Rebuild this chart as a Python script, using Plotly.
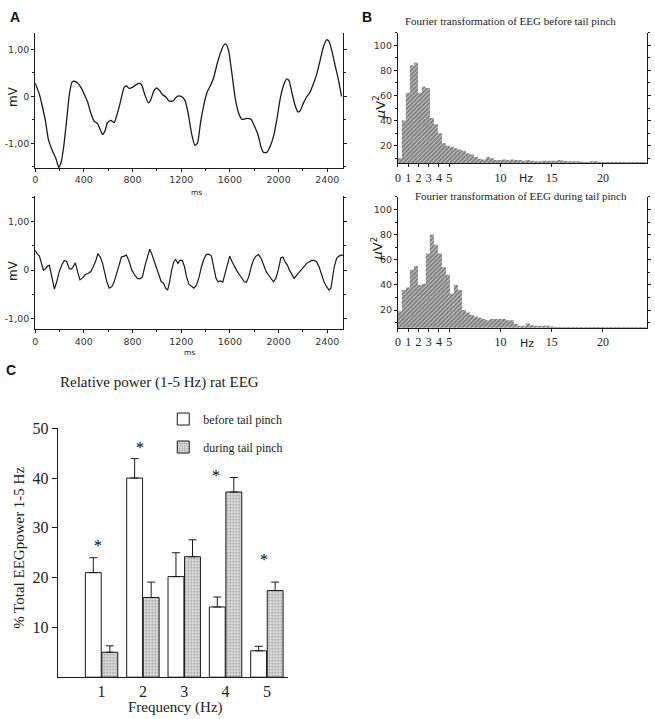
import plotly.graph_objects as go

W, H = 655, 719

# --- Panel A: EEG traces (ms, mV) ---
t_before_ms = [0, 35, 57, 85, 109, 139, 172, 194, 213, 235, 259, 281, 303, 322, 349, 376, 404, 431,
               458, 485, 513, 532, 554, 573, 594, 622, 649, 676, 704, 731, 750, 772, 799, 826, 854,
               875, 900, 930, 949, 976, 998, 1023, 1044, 1072, 1099, 1132, 1167, 1200, 1230, 1257,
               1284, 1312, 1334, 1358, 1385, 1413, 1440, 1467, 1494, 1522, 1549, 1568, 1590, 1617,
               1644, 1672, 1699, 1740, 1775, 1803, 1830, 1857, 1876, 1903, 1931, 1958, 1985, 2013,
               2040, 2067, 2086, 2108, 2135, 2157, 2176, 2203, 2231, 2258, 2285, 2313, 2340, 2367,
               2394, 2413, 2435, 2462, 2490, 2517]
eeg_before_mv = [0.28, 0.04, -0.19, -0.53, -0.92, -1.14, -1.33, -1.51, -1.40, -1.06, -0.50, 0.04,
                 0.30, 0.32, 0.28, 0.19, 0.04, -0.12, -0.36, -0.53, -0.58, -0.69, -0.81, -0.74,
                 -0.56, -0.51, -0.56, -0.36, -0.08, 0.19, 0.22, 0.17, 0.19, 0.24, 0.28, 0.24, 0.04,
                 -0.14, -0.08, 0.12, 0.18, 0.12, 0.04, -0.01, -0.10, -0.10, 0.0, 0.0, -0.08, -0.36,
                 -0.78, -1.04, -0.99, -0.57, -0.19, 0.09, 0.23, 0.40, 0.68, 0.92, 1.08, 1.11, 0.96,
                 0.47, -0.05, -0.36, -0.49, -0.47, -0.49, -0.64, -0.81, -1.09, -1.19, -1.19, -1.06,
                 -0.85, -0.50, -0.05, 0.23, 0.37, 0.33, 0.09, -0.19, -0.33, -0.31, -0.15, -0.01,
                 0.09, 0.26, 0.47, 0.75, 1.04, 1.20, 1.17, 0.99, 0.68, 0.37, 0.0]

t_during_ms = [0, 16, 35, 55, 68, 85, 104, 117, 131, 145, 158, 177, 199, 221, 240, 259, 281, 300,
               316, 330, 349, 368, 390, 412, 434, 458, 477, 499, 515, 535, 554, 573, 589, 608, 630,
               649, 668, 690, 709, 731, 750, 772, 794, 818, 840, 862, 881, 903, 922, 941, 957, 976,
               998, 1017, 1036, 1055, 1072, 1088, 1105, 1121, 1140, 1154, 1173, 1189, 1208, 1227,
               1244, 1263, 1284, 1304, 1325, 1345, 1366, 1385, 1405, 1426, 1448, 1467, 1486, 1503,
               1522, 1541, 1562, 1582, 1598, 1617, 1636, 1658, 1677, 1699, 1718, 1735, 1754, 1775,
               1795, 1814, 1835, 1857, 1876, 1898, 1917, 1936, 1958, 1977, 1999, 2018, 2035, 2054,
               2073, 2089, 2108, 2127, 2149, 2171, 2190, 2212, 2231, 2250, 2272, 2291, 2313, 2332,
               2354, 2373, 2394, 2414, 2430, 2444, 2457, 2476, 2495, 2517, 2531]
eeg_during_mv = [0.41, 0.34, 0.29, 0.14, 0.0, 0.03, 0.09, 0.10, -0.05, -0.24, -0.39, -0.24, -0.02,
                 0.12, 0.20, 0.18, 0.03, 0.02, 0.08, 0.15, -0.03, -0.20, -0.16, -0.09, -0.07, -0.03,
                 0.07, 0.20, 0.34, 0.27, 0.14, -0.07, -0.24, -0.37, -0.34, -0.24, -0.07, 0.14, 0.27,
                 0.29, 0.31, 0.18, 0.0, -0.10, -0.17, -0.18, -0.14, 0.10, 0.27, 0.43, 0.34, 0.20,
                 0.07, -0.09, -0.24, -0.27, -0.37, -0.41, -0.24, 0.0, 0.18, 0.22, 0.14, 0.20, 0.20,
                 0.07, -0.14, -0.29, -0.34, -0.37, -0.31, -0.16, 0.07, 0.22, 0.32, 0.33, 0.29, 0.07,
                 -0.17, -0.24, -0.22, -0.25, -0.07, 0.14, 0.29, 0.18, 0.07, -0.02, -0.09, -0.17,
                 -0.24, -0.25, -0.14, 0.07, 0.22, 0.29, 0.32, 0.24, 0.10, -0.03, -0.10, -0.17, -0.24,
                 -0.17, 0.02, 0.25, 0.27, 0.17, 0.10, 0.0, -0.10, -0.17, -0.10, -0.03, 0.03, 0.10,
                 0.14, 0.17, 0.20, 0.20, 0.17, 0.07, -0.10, -0.24, -0.34, -0.41, -0.37, -0.17, 0.07,
                 0.24, 0.29, 0.31, 0.31]

# --- Panel B: FFT power spectra (uV^2 per 0.39 Hz bin, starting at 0 Hz) ---
bin_hz = 0.39
fft_before = [10, 40, 62, 84, 86, 62, 67, 66, 42, 37, 30, 22, 20, 19, 18, 17, 16, 14, 13, 11,
              9.5, 9, 11, 10, 8.5, 8.5, 9, 8.5, 9, 8.5, 8.5, 8, 8.5, 8, 7.5, 7.5, 8, 8, 8, 8,
              8.5, 8, 7.5, 7.5, 7.5, 7.5, 7, 7, 7.5, 7.5, 7, 7, 7, 7, 7, 7, 7, 7, 7, 7, 7, 7]
fft_during = [19, 36, 38, 52, 55, 40, 41, 65, 80, 72, 65, 54, 48, 33, 40, 36, 20, 18, 16, 15,
              14, 13, 12, 13, 13, 13, 13, 12, 12, 9, 7.5, 7.5, 9.5, 8, 7.5, 7.5, 7.5, 7.5, 7,
              6.5, 6.5, 6.5, 6.5, 6.5, 6.5, 6.5, 6.5, 6.5, 6.5, 6.5, 6.5, 6.5, 6.5, 6.5, 6.5,
              6.5, 6.5, 6.5, 6.5, 6.5, 6.5, 6.5]

# --- Panel C: relative power ---
freq_cat = [1, 2, 3, 4, 5]
rel_before = [21.0, 40.0, 20.2, 14.1, 5.3]
err_before = [3.0, 3.9, 4.8, 2.0, 0.9]
rel_during = [5.0, 16.0, 24.2, 37.2, 17.4]
err_during = [1.3, 3.1, 3.4, 2.9, 1.7]
star_cat = [1, 2, 4, 5]
star_y = [26.4, 46.2, 40.6, 23.6]
star_dx = [-0.08, -0.06, -0.22, -0.06]


def px(x, y):
    return x / W, 1 - y / H


def dom_x(a, b):
    return [a / W, b / W]


def dom_y(top, bottom):
    return [1 - bottom / H, 1 - top / H]


SANS = "DejaVu Sans"
SERIF = "Liberation Serif"
INK = "#1a1a1a"

fig = go.Figure()

fig.add_trace(go.Scatter(x=t_before_ms, y=eeg_before_mv, mode="lines",
                         line=dict(color=INK, width=1.3, shape="spline", smoothing=0.5),
                         xaxis="x", yaxis="y", showlegend=False, hoverinfo="skip"))
fig.add_trace(go.Scatter(x=t_during_ms, y=eeg_during_mv, mode="lines",
                         line=dict(color=INK, width=1.2),
                         xaxis="x2", yaxis="y2", showlegend=False, hoverinfo="skip"))

hatch = dict(shape="/", fgcolor="#000", bgcolor="white", size=3, solidity=0.82)
fig.add_trace(go.Bar(x0=bin_hz / 2, dx=bin_hz, y=fft_before, width=bin_hz * 1.03,
                     marker=dict(color="white", line_width=0, pattern=hatch),
                     xaxis="x3", yaxis="y3", showlegend=False, hoverinfo="skip"))
fig.add_trace(go.Bar(x0=bin_hz / 2, dx=bin_hz, y=fft_during, width=bin_hz * 1.03,
                     marker=dict(color="white", line_width=0, pattern=hatch),
                     xaxis="x4", yaxis="y4", showlegend=False, hoverinfo="skip"))

fig.add_trace(go.Bar(x=freq_cat, y=rel_before, name="before tail pinch",
                     marker=dict(color="white", line=dict(color=INK, width=1)),
                     error_y=dict(type="data", symmetric=False, array=err_before,
                                  arrayminus=[0] * 5, color=INK, thickness=1, width=4),
                     xaxis="x5", yaxis="y5", legendgroup="a"))
fig.add_trace(go.Bar(x=freq_cat, y=rel_during, name="during tail pinch",
                     marker=dict(color="#d4d4d4", line=dict(color=INK, width=1),
                                 pattern=dict(shape=".", fgcolor="#555", bgcolor="#e0e0e0",
                                              size=3, solidity=0.35)),
                     error_y=dict(type="data", symmetric=False, array=err_during,
                                  arrayminus=[0] * 5, color=INK, thickness=1, width=4),
                     xaxis="x5", yaxis="y5", legendgroup="b"))

base_axis = dict(showgrid=False, zeroline=False, showline=True, linecolor=INK, linewidth=1,
                 ticks="outside", ticklen=3, tickcolor=INK, tickwidth=1)
small_font = dict(family=SANS, size=9.5, color="#333")


def ax(**kw):
    d = dict(base_axis)
    d.update(kw)
    return d


ax_a = dom_x(32.3, 341.7)
ax_b = dom_x(396.7, 647)
a_ticks = [0, 400, 800, 1200, 1600, 2000, 2400]
b_ticks = [0, 1, 2, 3, 4, 5, 10, 15, 20]
minor_ms = dict(dtick=200, ticks="outside", ticklen=2, tickcolor=INK)
minor_a = dict(dtick=0.5, ticks="outside", ticklen=2, tickcolor=INK)
minor_b = dict(dtick=10, tick0=0, ticks="outside", ticklen=2, tickcolor=INK)
serif12 = dict(family=SERIF, size=12, color="#222")
serif16 = dict(family=SERIF, size=16, color="#222")

fig.update_layout(
    width=W, height=H, margin=dict(l=0, r=0, t=0, b=0),
    paper_bgcolor="white", plot_bgcolor="white",
    barmode="group", bargap=0.2, bargroupgap=0.04,
    showlegend=True,
    legend=dict(x=161 / W, y=1 - 401 / H, xanchor="left", yanchor="top",
                font=dict(family=SERIF, size=12, color="#222"),
                bgcolor="rgba(0,0,0,0)", tracegroupgap=9, traceorder="grouped",
                itemclick=False),
    # A top
    xaxis=ax(domain=ax_a, anchor="y", range=[0, 2530], tickvals=a_ticks, minor=minor_ms,
             tickfont=small_font),
    yaxis=ax(domain=dom_y(25, 161.7), anchor="x", range=[-1.52, 1.35], tickvals=[1, 0, -1],
             ticktext=["1,00", "0", "-1,00"], minor=minor_a, mirror="ticks", tickfont=small_font),
    # A bottom
    xaxis2=ax(domain=ax_a, anchor="y2", range=[0, 2530], tickvals=a_ticks, minor=minor_ms,
              tickfont=small_font),
    yaxis2=ax(domain=dom_y(190, 325), anchor="x2", range=[-1.22, 1.53], tickvals=[1, 0, -1],
              ticktext=["1,00", "0", "-1,00"], minor=minor_a, mirror="ticks", tickfont=small_font),
    # B top
    xaxis3=ax(domain=ax_b, anchor="y3", range=[0, 24.3], tickvals=b_ticks, tickfont=serif12),
    yaxis3=ax(domain=dom_y(25, 157), anchor="x3", range=[6, 110], tickvals=[20, 40, 60, 80, 100],
              minor=minor_b, mirror="ticks", tickfont=small_font),
    # B bottom
    xaxis4=ax(domain=ax_b, anchor="y4", range=[0, 24.3], tickvals=b_ticks, tickfont=serif12),
    yaxis4=ax(domain=dom_y(191, 323.3), anchor="x4", range=[6, 110], tickvals=[20, 40, 60, 80, 100],
              minor=minor_b, mirror="ticks", tickfont=small_font),
    # C
    xaxis5=ax(domain=dom_x(55, 286.7), anchor="y5", range=[-0.06, 5.52], tickvals=freq_cat,
              ticks="", tickfont=serif16),
    yaxis5=ax(domain=dom_y(425, 676.7), anchor="x5", range=[0, 50], tickvals=[10, 20, 30, 40, 50],
              ticklen=5, tickfont=serif16),
)


def label(x, y, text, size, family=SANS, angle=0, color="#222", bold=False):
    xp, yp = px(x, y)
    if bold:
        text = "<b>" + text + "</b>"
    fig.add_annotation(x=xp, y=yp, xref="paper", yref="paper", text=text, showarrow=False,
                       textangle=angle, xanchor="center", yanchor="middle",
                       font=dict(family=family, size=size, color=color))


# panel letters
label(12, 9, "A", 14, family="Liberation Sans", color="#111", bold=True)
label(366, 9, "B", 14, family="Liberation Sans", color="#111", bold=True)
label(8, 366, "C", 14, family="Liberation Sans", color="#111", bold=True)

# A labels
label(10, 89, "mV", 12, angle=-90)
label(10, 265, "mV", 12, angle=-90)
label(194, 187, "ms", 7.5)
label(187, 348, "ms", 7.5)

# B labels
label(510, 13, "Fourier transformation of EEG before tail pinch", 11, family=SERIF)
label(520, 190, "Fourier transformation of EEG during tail pinch", 11, family=SERIF)
label(378, 100, "<i>μ</i>V<sup>2</sup>", 13, angle=-90)
label(376, 243, "<i>μ</i>V<sup>2</sup>", 13, angle=-90)
label(525, 172, "Hz", 11)
label(526, 339, "Hz", 11)

# C labels
label(157, 379, "Relative power (1-5 Hz) rat EEG", 15, family=SERIF)
label(16, 546, "% Total EEGpower 1-5 Hz", 15, family=SERIF, angle=-90)
label(173, 707, "Frequency (Hz)", 15, family=SERIF)

for c, y, dx in zip(star_cat, star_y, star_dx):
    fig.add_annotation(x=c + dx, y=y, xref="x5", yref="y5", text="*", showarrow=False,
                       font=dict(family=SERIF, size=16, color="black"))

fig.write_html("out.html", config={"displayModeBar": False},
               post_script="document.body.style.margin='0';")
